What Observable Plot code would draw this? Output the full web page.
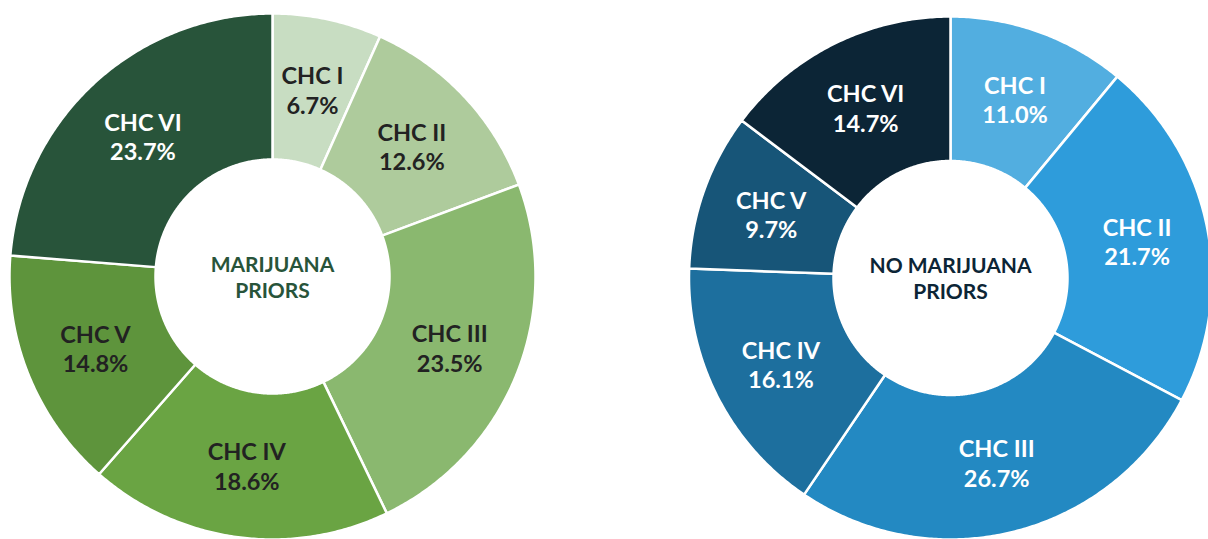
<!DOCTYPE html>
<html><head><meta charset="utf-8">
<script src="https://cdn.jsdelivr.net/npm/d3@7"></script>
<script src="https://cdn.jsdelivr.net/npm/@observablehq/plot@0.6"></script>
<style>body{margin:0;background:#fff;overflow:hidden}</style>
</head><body><div id="chart"></div>
<script>
const categories = ["CHC I", "CHC II", "CHC III", "CHC IV", "CHC V", "CHC VI"];
const marijuanaPriors = [6.7, 12.6, 23.5, 18.6, 14.8, 23.7];
const noMarijuanaPriors = [11.0, 21.7, 26.7, 16.1, 9.7, 14.7];
const greenColors = ["#c8ddc2", "#aecb9c", "#8ab86f", "#6aa443", "#5e943c", "#28543a"];
const blueColors = ["#52aee0", "#2e9cdb", "#2389c2", "#1d6f9e", "#175578", "#0c2536"];
const greenLabelColors = ["#222222", "#222222", "#222222", "#222222", "#222222", "#ffffff"];
const blueLabelColors = ["#ffffff", "#ffffff", "#ffffff", "#ffffff", "#ffffff", "#ffffff"];
const centerTitles = ["MARIJUANA\nPRIORS", "NO MARIJUANA\nPRIORS"];
const centerTitleColors = ["#28543a", "#0c2536"];

const W = 1208, H = 539;
const donuts = [
  {key: "m", values: marijuanaPriors, colors: greenColors, labelColors: greenLabelColors, title: centerTitles[0], titleColor: centerTitleColors[0], cx: 272, cy: 276, R: 263, r: 117},
  {key: "n", values: noMarijuanaPriors, colors: blueColors, labelColors: blueLabelColors, title: centerTitles[1], titleColor: centerTitleColors[1], cx: 950, cy: 277.5, R: 261.5, r: 117}
];

const slicePoints = [];
const labels = [];
const colorDomain = [], colorRange = [];
for (const d of donuts) {
  const total = d3.sum(d.values);
  let cum = 0;
  d.values.forEach((v, i) => {
    const a0 = cum / total * 2 * Math.PI;
    cum += v;
    const a1 = cum / total * 2 * Math.PI;
    const id = d.key + i;
    colorDomain.push(id); colorRange.push(d.colors[i]);
    const n = Math.max(2, Math.ceil((a1 - a0) / (Math.PI / 360)));
    const pts = [];
    for (let k = 0; k <= n; k++) {
      const a = a0 + (a1 - a0) * k / n;
      pts.push({id, x: d.cx + d.R * Math.sin(a), y: d.cy - d.R * Math.cos(a)});
    }
    for (let k = n; k >= 0; k--) {
      const a = a0 + (a1 - a0) * k / n;
      pts.push({id, x: d.cx + d.r * Math.sin(a), y: d.cy - d.r * Math.cos(a)});
    }
    pts.push(pts[0]);
    slicePoints.push(...pts);
    const am = (a0 + a1) / 2, rm = (d.R + d.r) / 2 + 1;
    labels.push({x: d.cx + rm * Math.sin(am), y: d.cy - rm * Math.cos(am),
      text: categories[i] + "\n" + d3.format(".1f")(v) + "%", color: d.labelColors[i]});
  });
}
const titles = donuts.map(d => ({x: d.cx, y: d.cy, text: d.title, color: d.titleColor}));

const chart = Plot.plot({
  width: W, height: H,
  margin: 0,
  x: {domain: [0, W], range: [0, W], axis: null},
  y: {domain: [0, H], range: [0, H], axis: null},
  color: {domain: colorDomain, range: colorRange},
  style: {fontFamily: "Lato, 'Open Sans', sans-serif", background: "#fff"},
  marks: [
    Plot.line(slicePoints, {x: "x", y: "y", z: "id", fill: "id", stroke: "#ffffff", strokeWidth: 2.5, strokeLinejoin: "round", curve: "linear"}),
    Plot.text(labels, {x: "x", y: "y", text: "text", fill: "color", fontSize: 23.5, fontWeight: "bold", lineHeight: 1.25}),
    Plot.text(titles, {x: "x", y: "y", text: "text", fill: "color", fontSize: 21, fontWeight: "bold", lineHeight: 1.22})
  ]
});
document.getElementById("chart").appendChild(chart);
</script>
</body></html>
